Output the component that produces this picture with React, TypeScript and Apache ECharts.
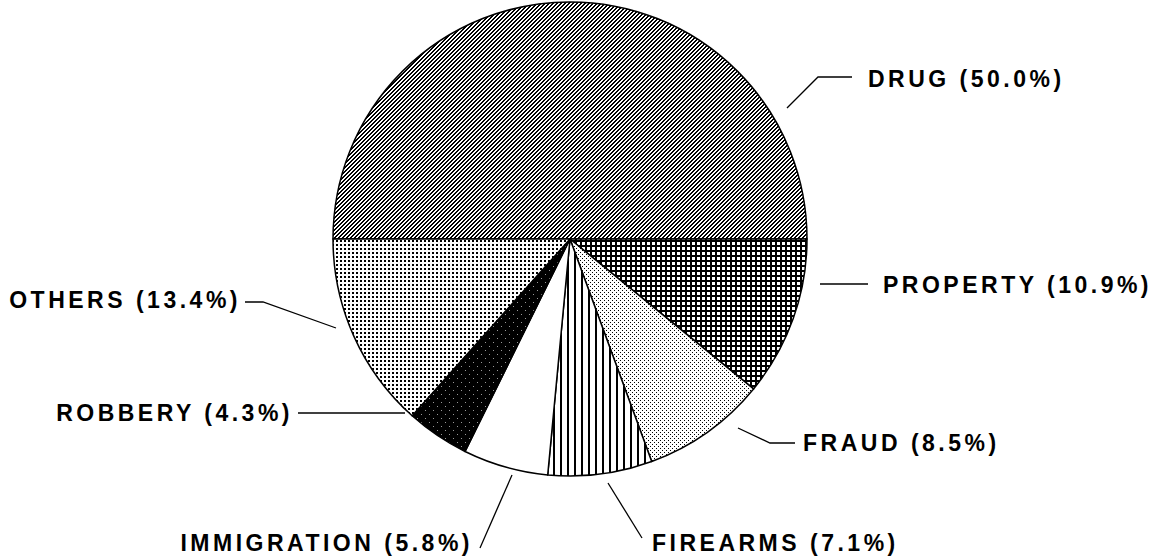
import React, { useEffect, useRef } from "react";
import * as echarts from "echarts";

// ---- data ----
const categories = ["DRUG", "PROPERTY", "FRAUD", "FIREARMS", "IMMIGRATION", "ROBBERY", "OTHERS"];
const shares = [50.0, 10.9, 8.5, 7.1, 5.8, 4.3, 13.4];

// ---- layout (label anchors and leader lines, screen px) ----
const labelLayouts: { x: number; y: number; align: string; line: number[][] }[] = [
  { x: 868, y: 79, align: "left", line: [[787, 108], [818, 77], [852, 77]] },
  { x: 883, y: 285, align: "left", line: [[820, 284], [868, 284]] },
  { x: 803, y: 443, align: "left", line: [[738, 428], [770, 443], [795, 443]] },
  { x: 652, y: 543, align: "left", line: [[608, 483], [642, 538]] },
  { x: 473, y: 543, align: "right", line: [[512, 475], [480, 548]] },
  { x: 293, y: 413, align: "right", line: [[405, 413], [298, 413]] },
  { x: 241, y: 300, align: "right", line: [[336, 328], [263, 302], [245, 302]] },
];

function makeTile(w: number, h: number, draw: (ctx: CanvasRenderingContext2D) => void, bg = "#fff", fg = "#000") {
  const c = document.createElement("canvas");
  c.width = w;
  c.height = h;
  const ctx = c.getContext("2d")!;
  ctx.fillStyle = bg;
  ctx.fillRect(0, 0, w, h);
  ctx.fillStyle = fg;
  draw(ctx);
  return { image: c, repeat: "repeat", imageWidth: w, imageHeight: h } as any;
}

function buildPatterns() {
  const drug = makeTile(4, 4, (ctx) => {
    for (let i = 0; i < 4; i++) {
      ctx.fillRect(i, 3 - i, 1, 1);
      ctx.fillRect((i + 1) % 4, 3 - i, 1, 1);
    }
  });
  const property = makeTile(5, 5, (ctx) => {
    ctx.fillRect(0, 0, 5, 2);
    ctx.fillRect(0, 0, 2, 5);
  });
  const fraud = makeTile(4, 4, (ctx) => {
    ctx.fillRect(0, 0, 1, 1);
    ctx.fillRect(2, 2, 1, 1);
  });
  const firearms = makeTile(7, 2, (ctx) => {
    ctx.fillRect(0, 0, 2, 2);
  });
  const robbery = makeTile(8, 8, (ctx) => {
    ctx.fillRect(1, 2, 1, 1);
    ctx.fillRect(5, 6, 1, 1);
  }, "#000", "#999");
  const others = makeTile(4, 4, (ctx) => {
    ctx.fillRect(0, 0, 2, 2);
  });
  return [drug, property, fraud, firearms, "#ffffff", robbery, others];
}

export default function App() {
  const ref = useRef<HTMLDivElement>(null);
  useEffect(() => {
    if (!ref.current) return;
    const chart = echarts.init(ref.current, undefined, { renderer: "svg" });
    const fills = buildPatterns();
    chart.setOption({
      animation: false,
      backgroundColor: "#ffffff",
      series: [
        {
          type: "pie",
          center: [570, 239],
          radius: 237,
          startAngle: 180,
          clockwise: true,
          avoidLabelOverlap: false,
          data: categories.map((name, i) => ({
            name,
            value: shares[i],
            itemStyle: { color: fills[i] },
          })),
          itemStyle: { borderColor: "#000", borderWidth: 1.5 },
          label: {
            show: true,
            position: "outside",
            color: "#000",
            fontFamily: "'Liberation Sans', Arial, sans-serif",
            fontWeight: "bold",
            fontSize: 23,
            lineHeight: 22,
            formatter: (p: any) => `${p.name} (${p.percent.toFixed(1)}%)`,
          },
          labelLine: {
            show: true,
            lineStyle: { color: "#000", width: 1.3 },
          },
          labelLayout: (params: any) => {
            const l = labelLayouts[params.dataIndex];
            return {
              x: l.x,
              y: l.y,
              align: l.align,
              verticalAlign: "middle",
              labelLinePoints: l.line,
            };
          },
          emphasis: { disabled: true },
        },
      ],
    });
    ref.current.querySelectorAll("text").forEach((t) => {
      (t as SVGTextElement).style.letterSpacing = "3.5px";
    });
    return () => chart.dispose();
  }, []);
  return (
    <div
      ref={ref}
      style={{ position: "fixed", left: 0, top: 0, width: 1160, height: 559, background: "#fff" }}
    />
  );
}
